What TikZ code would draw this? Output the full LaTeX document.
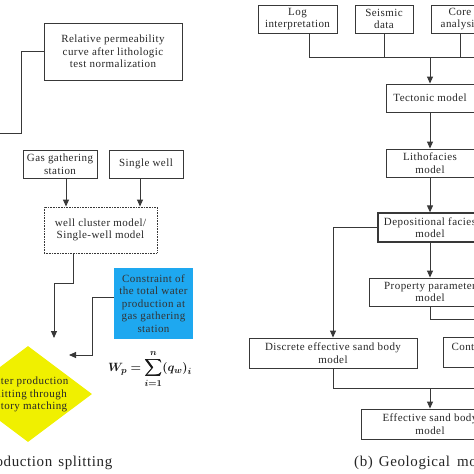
\documentclass[tikz,border=0pt]{standalone}
\usepackage{amsmath,bm}
\usepackage{fontspec}
\setmainfont{Liberation Serif}[LetterSpace=4]
\usetikzlibrary{arrows.meta,shapes.geometric}
\definecolor{lc}{HTML}{383838}
\definecolor{skyb}{HTML}{1EA8F0}
\definecolor{ylw}{HTML}{F0F000}
\begin{document}
\begin{tikzpicture}[x=1pt,y=-1pt,
  box/.style={draw=lc, line width=0.9pt, align=center, inner sep=1pt,
    font=\fontsize{11}{12.5}\selectfont, text=black!85},
  ln/.style={draw=lc, line width=0.9pt},
  arr/.style={ln, -{Triangle[length=7pt,width=6pt]}},
  captext/.style={font=\fontsize{15}{17}\selectfont, text=black!85, inner sep=0pt}]
\useasboundingbox (0,0) rectangle (474,474);
\clip (0,0) rectangle (474,474);
% ---------- left part ----------
\node[box, minimum width=138pt, minimum height=57pt] (rel) at (113,51.5)
  {Relative permeability\\curve after lithologic\\test normalization};
\coordinate (l1c) at (21,133);
\coordinate (l1) at (-20,133);
\draw[ln] (rel.west) -| (l1c) -- (l1);

\node[box, minimum width=74pt, minimum height=28pt] (gas) at (60,164) {Gas gathering\\station};
\node[box, minimum width=74pt, minimum height=28pt] (single) at (146,164) {Single well};
\node[box, dash pattern=on 0.8pt off 0.8pt, minimum width=113pt, minimum height=46pt]
  (cluster) at (100.5,230) {well cluster model/\\Single-well model};
\draw[arr] ([xshift=6pt]gas.south) -- ([xshift=6pt]gas.south |- cluster.north);
\draw[arr] ([xshift=-6pt]single.south) -- ([xshift=-6pt]single.south |- cluster.north);

\node[box, draw=none, fill=skyb, minimum width=79pt, minimum height=71pt, text=black!80]
  (blue) at (153.5,303.5) {Constraint of\\the total water\\production at\\gas gathering\\station};

\node[diamond, fill=ylw, minimum width=128pt, minimum height=96pt, inner sep=0pt] (dia) at (28,394) {};
\node[align=center, font=\fontsize{11}{12.5}\selectfont, text=black!85] (diat) at (27,394.5)
  {Water production\\splitting through\\history matching};

\coordinate (c1m) at (54,283);
\coordinate (c1) at (54,338);
\draw[arr] ([xshift=-27.5pt]cluster.south) |- (c1m) -- (c1);
\coordinate (b1) at (92,355);
\coordinate (b2) at (69,355);
\draw[arr] ([yshift=6.5pt]blue.west) -| (b1) -- (b2);

\node[text=black!90] (form) at (150,369) {\fontsize{12.5}{14}\selectfont$\displaystyle\bm{W_p=\sum_{i=1}^{n}(q_w)_i}$};

\node[captext, anchor=base east] (capa) at (112.5,466) {(a)\hspace{6pt}Water\hspace{6pt}production\hspace{6pt}splitting};

% ---------- right part ----------
\node[box, minimum width=79pt, minimum height=28pt] (log) at (297.5,19) {Log\\interpretation};
\node[box, minimum width=58pt, minimum height=28pt] (seis) at (384,19) {Seismic\\data};
\node[box, minimum width=58pt, minimum height=28pt] (core) at (460,19) {Core\\analysis};
\coordinate (jr) at (495,57);
\coordinate (j) at (430,57);
\draw[ln] ([xshift=11.5pt]log.south) |- (jr);
\draw[ln] (seis.south) -- (seis.south |- jr);
\draw[ln] (core.south) -- (core.south |- jr);

\node[box, minimum width=88pt, minimum height=28pt] (tect) at (430,98) {Tectonic model};
\node[box, minimum width=88pt, minimum height=28pt] (litho) at (430,163) {Lithofacies\\model};
\node[box, line width=1.3pt, minimum width=104pt, minimum height=29pt] (dep) at (430,227.5) {Depositional facies\\model};
\node[box, minimum width=122pt, minimum height=28pt] (prop) at (430,292) {Property parameter\\model};
\node[box, minimum width=168pt, minimum height=30pt] (disc) at (333,353) {Discrete effective sand body\\model};
\node[box, minimum width=168pt, minimum height=30pt] (cont) at (527,352.5) {Continuous effective sand body\\model};
\node[box, minimum width=138pt, minimum height=30pt] (eff) at (430,424) {Effective sand body\\model};

\draw[arr] (j) -- (tect.north);
\draw[arr] (tect.south) -- (litho.north);
\draw[arr] (litho.south) -- (dep.north);
\draw[arr] (dep.south) -- (prop.north);
\draw[arr] (dep.west) -| (disc.north);
\coordinate (p1) at (430,319);
\draw[arr] (prop.south) -- (p1) -| (cont.north);
\coordinate (d1) at (333,388);
\coordinate (d2) at (430,388);
\draw[ln] (disc.south) -- (d1) -| (cont.south);
\draw[arr] (d2) -- (eff.north);

\node[captext, anchor=base west] (capb) at (354,466) {(b)\hspace{6pt}Geological\hspace{7pt}model};
\end{tikzpicture}
\end{document}
